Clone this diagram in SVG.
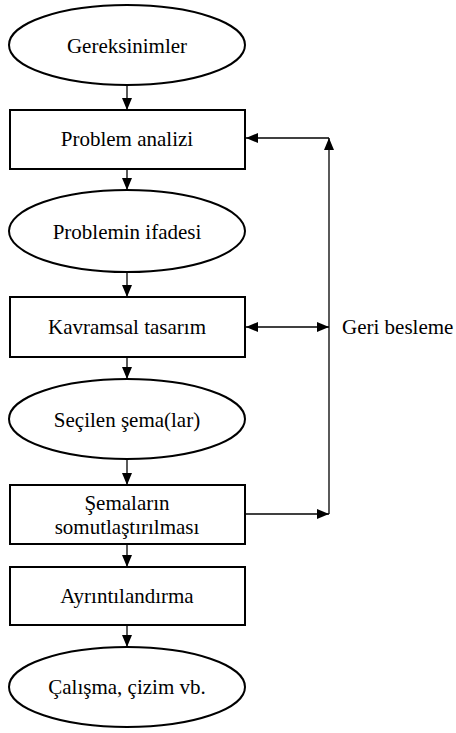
<svg xmlns="http://www.w3.org/2000/svg" width="456" height="733" viewBox="0 0 456 733">
<style>
.n{fill:#fff;stroke:#000;stroke-width:2}
text{font-family:'Liberation Serif','Times New Roman','DejaVu Serif',serif;font-size:21px;fill:#000}
.t{text-anchor:middle}
.c{stroke:#000;stroke-width:1.3;fill:none}
</style>
<defs>
<marker id="a" viewBox="0 0 12 10" refX="12" refY="5" markerWidth="12" markerHeight="10" markerUnits="userSpaceOnUse" orient="auto-start-reverse"><path d="M0,0L12,5L0,10z" fill="#000"/></marker>
</defs>
<rect width="456" height="733" fill="#fff"/>
<g id="connectors">
<line class="c" x1="127" y1="86" x2="127" y2="110" marker-end="url(#a)"/>
<line class="c" x1="127" y1="169" x2="127" y2="190" marker-end="url(#a)"/>
<line class="c" x1="127" y1="272" x2="127" y2="297" marker-end="url(#a)"/>
<line class="c" x1="127" y1="357" x2="127" y2="379" marker-end="url(#a)"/>
<line class="c" x1="127" y1="459" x2="127" y2="485" marker-end="url(#a)"/>
<line class="c" x1="127" y1="544" x2="127" y2="567" marker-end="url(#a)"/>
<line class="c" x1="127" y1="625" x2="127" y2="647" marker-end="url(#a)"/>
<line class="c" x1="245" y1="514" x2="329" y2="514" marker-end="url(#a)"/>
<line class="c" x1="329" y1="514" x2="329" y2="138" marker-end="url(#a)"/>
<line class="c" x1="329" y1="138" x2="246" y2="138" marker-end="url(#a)"/>
<line class="c" x1="246" y1="327" x2="329" y2="327" marker-start="url(#a)" marker-end="url(#a)"/>
<text x="342" y="334">Geri besleme</text>
</g>
<g id="n1"><ellipse class="n" cx="127" cy="45" rx="118" ry="40"/><text class="t" x="127" y="53">Gereksinimler</text></g>
<g id="n2"><rect class="n" x="10" y="110" width="235" height="59"/><text class="t" x="127" y="146">Problem analizi</text></g>
<g id="n3"><ellipse class="n" cx="127" cy="231" rx="118" ry="41"/><text class="t" x="127" y="239">Problemin ifadesi</text></g>
<g id="n4"><rect class="n" x="10" y="297" width="235" height="60"/><text class="t" x="127" y="334">Kavramsal tasarım</text></g>
<g id="n5"><ellipse class="n" cx="127" cy="419" rx="118" ry="40"/><text class="t" x="127" y="427">Seçilen şema(lar)</text></g>
<g id="n6"><rect class="n" x="10" y="485" width="235" height="59"/><text class="t" x="127" y="510">Şemaların</text><text class="t" x="127" y="534">somutlaştırılması</text></g>
<g id="n7"><rect class="n" x="10" y="567" width="235" height="58"/><text class="t" x="127" y="603">Ayrıntılandırma</text></g>
<g id="n8"><ellipse class="n" cx="127" cy="687" rx="118" ry="40"/><text class="t" x="127" y="694">Çalışma, çizim vb.</text></g>
</svg>
